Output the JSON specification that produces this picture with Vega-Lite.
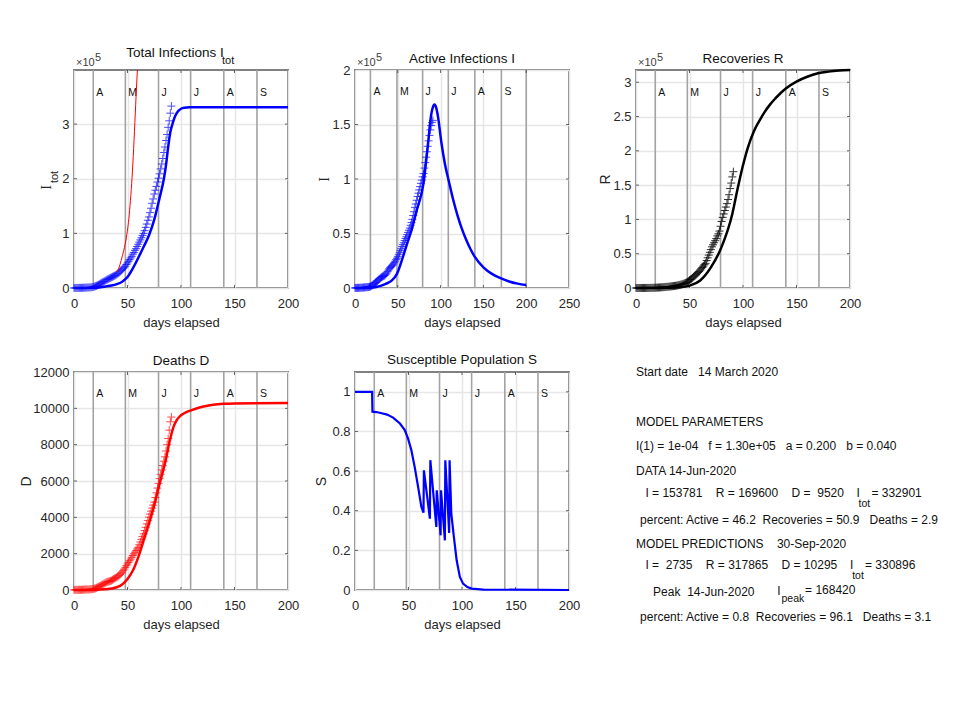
{
  "$schema": "https://vega.github.io/schema/vega-lite/v6.json",
  "background": "#ffffff",
  "padding": {"left": 18, "top": 44, "right": 10, "bottom": 60},
  "bounds": "flush",
  "columns": 3,
  "spacing": {"row": 84, "column": 67},
  "config": {
    "font": "Liberation Sans",
    "view": {"stroke": "#808080", "strokeWidth": 2},
    "axis": {"domain": false, "ticks": false, "tickSize": 0, "grid": true, "gridColor": "#e6e6e6", "gridWidth": 1.5, "labelFontSize": 13, "labelColor": "#262626", "titleFontSize": 14, "titleFontWeight": "normal", "titleColor": "#262626", "labelOverlap": false, "labelFlush": false, "labelBound": false},
    "axisX": {"labelPadding": 9, "titlePadding": 6, "titleFontSize": 13},
    "axisY": {"labelPadding": 5},
    "title": {"fontSize": 13.5, "fontWeight": "normal", "color": "#111111"}
  },
  "datasets": {
    "months": [{"day": 18, "value": 0}, {"day": 48, "value": 0}, {"day": 79, "value": 0}, {"day": 109, "value": 0}, {"day": 140, "value": 0}, {"day": 171, "value": 0}],
    "bottom_ticks": [{"day": 50, "value": 0}, {"day": 100, "value": 0}, {"day": 150, "value": 0}],
    "cases": [
      {"day":0,"Itot":80,"I":70,"R":5,"D":5},{"day":1,"Itot":100,"I":90,"R":5,"D":5},{"day":2,"Itot":120,"I":100,"R":10,"D":10},{"day":3,"Itot":150,"I":130,"R":10,"D":10},
      {"day":4,"Itot":200,"I":170,"R":20,"D":10},{"day":5,"Itot":250,"I":210,"R":30,"D":10},{"day":6,"Itot":300,"I":250,"R":40,"D":10},{"day":7,"Itot":350,"I":290,"R":50,"D":10},
      {"day":8,"Itot":420,"I":340,"R":60,"D":20},{"day":9,"Itot":500,"I":400,"R":80,"D":20},{"day":10,"Itot":600,"I":470,"R":100,"D":30},{"day":11,"Itot":700,"I":540,"R":130,"D":30},
      {"day":12,"Itot":800,"I":620,"R":150,"D":30},{"day":13,"Itot":900,"I":700,"R":170,"D":30},{"day":14,"Itot":1000,"I":780,"R":190,"D":30},{"day":15,"Itot":1150,"I":880,"R":230,"D":40},
      {"day":16,"Itot":1300,"I":1000,"R":260,"D":40},{"day":17,"Itot":1500,"I":1120,"R":330,"D":50},{"day":18,"Itot":2000,"I":1300,"R":400,"D":60},{"day":19,"Itot":2600,"I":1800,"R":500,"D":75},
      {"day":20,"Itot":3300,"I":2400,"R":600,"D":90},{"day":21,"Itot":4100,"I":3000,"R":700,"D":120},{"day":22,"Itot":5000,"I":3700,"R":800,"D":150},{"day":23,"Itot":6000,"I":4300,"R":900,"D":180},
      {"day":24,"Itot":7200,"I":5000,"R":1000,"D":210},{"day":25,"Itot":8500,"I":5600,"R":1100,"D":240},{"day":26,"Itot":9700,"I":6400,"R":1300,"D":280},{"day":27,"Itot":11000,"I":7100,"R":1400,"D":310},
      {"day":28,"Itot":12000,"I":7900,"R":1500,"D":350},{"day":29,"Itot":13000,"I":8600,"R":1700,"D":380},{"day":30,"Itot":14500,"I":9400,"R":1800,"D":420},{"day":31,"Itot":15500,"I":9900,"R":2000,"D":440},
      {"day":32,"Itot":16500,"I":10400,"R":2200,"D":460},{"day":33,"Itot":17500,"I":10800,"R":2400,"D":480},{"day":34,"Itot":18500,"I":11200,"R":2600,"D":500},{"day":35,"Itot":19500,"I":11700,"R":2800,"D":520},
      {"day":36,"Itot":20500,"I":12600,"R":3000,"D":560},{"day":37,"Itot":21500,"I":13700,"R":3200,"D":600},{"day":38,"Itot":22500,"I":15000,"R":3500,"D":640},{"day":39,"Itot":23500,"I":16400,"R":3800,"D":670},
      {"day":40,"Itot":25000,"I":17700,"R":4200,"D":700},{"day":41,"Itot":26500,"I":18600,"R":4600,"D":750},{"day":42,"Itot":28000,"I":19400,"R":5000,"D":800},{"day":43,"Itot":30000,"I":20200,"R":5500,"D":860},
      {"day":44,"Itot":32000,"I":21000,"R":6000,"D":920},{"day":45,"Itot":34000,"I":22000,"R":6600,"D":980},{"day":46,"Itot":36000,"I":23200,"R":7300,"D":1060},{"day":47,"Itot":38000,"I":24600,"R":8000,"D":1150},
      {"day":48,"Itot":40000,"I":26000,"R":8900,"D":1250},{"day":49,"Itot":43000,"I":27300,"R":10000,"D":1340},{"day":50,"Itot":46000,"I":28700,"R":11500,"D":1430},{"day":51,"Itot":49000,"I":30500,"R":12500,"D":1520},
      {"day":52,"Itot":52000,"I":32300,"R":13500,"D":1610},{"day":53,"Itot":55000,"I":34200,"R":15000,"D":1700},{"day":54,"Itot":58000,"I":36000,"R":16500,"D":1800},{"day":55,"Itot":62000,"I":38000,"R":18000,"D":1900},
      {"day":56,"Itot":65000,"I":39800,"R":19500,"D":1990},{"day":57,"Itot":69000,"I":41500,"R":21000,"D":2080},{"day":58,"Itot":72000,"I":43500,"R":22500,"D":2170},{"day":59,"Itot":76000,"I":45400,"R":24000,"D":2260},
      {"day":60,"Itot":80000,"I":47000,"R":26000,"D":2350},{"day":61,"Itot":84000,"I":49000,"R":28000,"D":2490},{"day":62,"Itot":88000,"I":51000,"R":30000,"D":2640},{"day":63,"Itot":92000,"I":53000,"R":32000,"D":2790},
      {"day":64,"Itot":96000,"I":55000,"R":34000,"D":2940},{"day":65,"Itot":100000,"I":57500,"R":36000,"D":3090},{"day":66,"Itot":105000,"I":60000,"R":40000,"D":3270},{"day":67,"Itot":111000,"I":63000,"R":44000,"D":3450},
      {"day":68,"Itot":117000,"I":66500,"R":48000,"D":3640},{"day":69,"Itot":124000,"I":70000,"R":52000,"D":3820},{"day":70,"Itot":130000,"I":74000,"R":56000,"D":4010},{"day":71,"Itot":138000,"I":77000,"R":60000,"D":4180},
      {"day":72,"Itot":146000,"I":80500,"R":63000,"D":4340},{"day":73,"Itot":155000,"I":84000,"R":66000,"D":4510},{"day":74,"Itot":163000,"I":87000,"R":69000,"D":4670},{"day":75,"Itot":172000,"I":90000,"R":72000,"D":4840},
      {"day":76,"Itot":179000,"I":93000,"R":76000,"D":5090},{"day":77,"Itot":186000,"I":96000,"R":79000,"D":5350},{"day":78,"Itot":194000,"I":99000,"R":83000,"D":5610},{"day":79,"Itot":201000,"I":102000,"R":90000,"D":5870},
      {"day":80,"Itot":209000,"I":105000,"R":97000,"D":6130},{"day":81,"Itot":218000,"I":110000,"R":103000,"D":6370},{"day":82,"Itot":227000,"I":115000,"R":108000,"D":6610},{"day":83,"Itot":237000,"I":120000,"R":113000,"D":6850},
      {"day":84,"Itot":248000,"I":125000,"R":118000,"D":7090},{"day":85,"Itot":258000,"I":130000,"R":123000,"D":7330},{"day":86,"Itot":270000,"I":135000,"R":129000,"D":7650},{"day":87,"Itot":281000,"I":140000,"R":136000,"D":8000},
      {"day":88,"Itot":294000,"I":145000,"R":145000,"D":8340},{"day":89,"Itot":306000,"I":149000,"R":153000,"D":8800},{"day":90,"Itot":320000,"I":152000,"R":162000,"D":9260},{"day":91,"Itot":332901,"I":153781,"R":169600,"D":9520}
    ],
    "model_itot": [{"day":0,"value":0},{"day":10,"value":100},{"day":17,"value":300},{"day":20,"value":600},{"day":25,"value":1500},{"day":30,"value":3000},{"day":35,"value":4500},{"day":40,"value":7000},{"day":45,"value":11500},{"day":50,"value":20000},{"day":55,"value":36000},{"day":60,"value":55000},{"day":65,"value":75000},{"day":70,"value":96000},{"day":75,"value":125000},{"day":80,"value":165000},{"day":84,"value":200000},{"day":86,"value":225000},{"day":88,"value":258000},{"day":90,"value":285000},{"day":92,"value":300000},{"day":94,"value":312000},{"day":96,"value":320000},{"day":98,"value":325000},{"day":100,"value":328000},{"day":103,"value":330000},{"day":108,"value":330700},{"day":120,"value":330896},{"day":200,"value":330896}],
    "exp_itot": [{"day":40,"value":29000},{"day":42,"value":37000},{"day":44,"value":50000},{"day":46.5,"value":69000},{"day":49,"value":93000},{"day":52,"value":142000},{"day":55,"value":227000},{"day":58,"value":350000},{"day":60,"value":430000}],
    "model_i": [{"day":0,"value":0},{"day":17,"value":300},{"day":25,"value":1000},{"day":30,"value":2000},{"day":36,"value":3800},{"day":42.5,"value":6500},{"day":49,"value":13000},{"day":56,"value":28500},{"day":61,"value":41000},{"day":66,"value":53000},{"day":72,"value":71000},{"day":80,"value":96000},{"day":85,"value":130000},{"day":89,"value":159000},{"day":91,"value":166000},{"day":93,"value":168420},{"day":95,"value":165000},{"day":97,"value":157000},{"day":101,"value":133000},{"day":105,"value":114000},{"day":109,"value":100000},{"day":115,"value":80000},{"day":120,"value":66000},{"day":125,"value":54000},{"day":130,"value":44000},{"day":135,"value":35500},{"day":140,"value":28500},{"day":150,"value":19000},{"day":160,"value":13000},{"day":170,"value":9000},{"day":180,"value":6000},{"day":190,"value":4000},{"day":200,"value":2735}],
    "model_r": [{"day":0,"value":0},{"day":30,"value":300},{"day":40,"value":1000},{"day":50,"value":3500},{"day":60,"value":11000},{"day":70,"value":30000},{"day":80,"value":60000},{"day":90,"value":108000},{"day":95,"value":145000},{"day":100,"value":179000},{"day":105,"value":207000},{"day":110,"value":228000},{"day":115,"value":243000},{"day":120,"value":256000},{"day":125,"value":267000},{"day":130,"value":276000},{"day":135,"value":284000},{"day":140,"value":291000},{"day":150,"value":301000},{"day":160,"value":308000},{"day":170,"value":313000},{"day":180,"value":315500},{"day":190,"value":317000},{"day":200,"value":317865}],
    "model_d": [{"day":0,"value":0},{"day":17,"value":5},{"day":30,"value":35},{"day":40,"value":150},{"day":45,"value":300},{"day":50,"value":600},{"day":55,"value":1070},{"day":60,"value":1800},{"day":65,"value":2720},{"day":70,"value":3640},{"day":75,"value":4660},{"day":80,"value":5850},{"day":85,"value":6960},{"day":90,"value":8340},{"day":93,"value":8980},{"day":96,"value":9350},{"day":100,"value":9620},{"day":105,"value":9790},{"day":110,"value":9900},{"day":120,"value":10090},{"day":130,"value":10200},{"day":140,"value":10250},{"day":150,"value":10270},{"day":200,"value":10295}],
    "model_s": [{"day":0,"value":1},{"day":16,"value":1},{"day":16.3,"value":0.9},{"day":20,"value":0.898},{"day":25,"value":0.892},{"day":30,"value":0.885},{"day":35.6,"value":0.87},{"day":42,"value":0.84},{"day":46.5,"value":0.807},{"day":49.6,"value":0.764},{"day":52.7,"value":0.705},{"day":55.8,"value":0.62},{"day":59,"value":0.52},{"day":62,"value":0.42},{"day":64,"value":0.39},{"day":64.4,"value":0.604},{"day":70,"value":0.36},{"day":70.4,"value":0.655},{"day":76,"value":0.318},{"day":76.4,"value":0.503},{"day":80,"value":0.276},{"day":80.4,"value":0.503},{"day":84,"value":0.25},{"day":84.4,"value":0.655},{"day":88,"value":0.288},{"day":88.4,"value":0.655},{"day":90,"value":0.385},{"day":92.4,"value":0.268},{"day":95,"value":0.15},{"day":98,"value":0.066},{"day":101,"value":0.032},{"day":105,"value":0.015},{"day":109,"value":0.007},{"day":120,"value":0.002},{"day":200,"value":0}]
  },
  "concat": [
    {
      "width": 214, "height": 218,
      "title": {"text": "Total Infections I", "dx": -6, "offset": -7},
      "encoding": {
        "x": {"field": "day", "type": "quantitative", "scale": {"domain": [0, 200], "nice": false}, "axis": {"values": [0, 50, 100, 150, 200], "title": "days elapsed"}},
        "y": {"field": "value", "type": "quantitative", "scale": {"domain": [0, 399000], "nice": false}, "axis": {"values": [0, 100000, 200000, 300000], "labelExpr": "datum.value / 100000", "title": "I", "titleFont": "Liberation Serif", "titleX": -21, "titleY": 117}}
      },
      "layer": [
        {"data": {"name": "months"}, "mark": {"type": "rule", "color": "#a3a3a3", "strokeWidth": 1.6}, "encoding": {"y2": {"datum": 399000}}},
        {"data": {"values": [{"day": 18, "value": 357000, "m": "A"}, {"day": 48, "value": 357000, "m": "M"}, {"day": 79, "value": 357000, "m": "J"}, {"day": 109, "value": 357000, "m": "J"}, {"day": 140, "value": 357000, "m": "A"}, {"day": 171, "value": 357000, "m": "S"}]}, "mark": {"type": "text", "align": "left", "dx": 3, "fontSize": 10.5, "color": "#111111"}, "encoding": {"text": {"field": "m"}}},
        {"data": {"name": "bottom_ticks"}, "mark": {"type": "tick", "orient": "vertical", "size": 6, "color": "#262626", "clip": true}},
        {"data": {"values": [{"day": 50, "value": 399000}, {"day": 100, "value": 399000}, {"day": 150, "value": 399000}]}, "mark": {"type": "tick", "orient": "vertical", "size": 6, "color": "#262626", "clip": true}},
        {"data": {"values": [{"day": 0, "value": 100000}, {"day": 0, "value": 200000}, {"day": 0, "value": 300000}, {"day": 200, "value": 100000}, {"day": 200, "value": 200000}, {"day": 200, "value": 300000}]}, "mark": {"type": "tick", "orient": "horizontal", "size": 6, "color": "#262626", "clip": true}},
        {"data": {"values": [{"day": 0, "value": 399000}]}, "mark": {"type": "text", "text": "×10", "align": "left", "dx": 2, "dy": -7, "fontSize": 11, "color": "#404040"}},
        {"data": {"values": [{"day": 0, "value": 399000}]}, "mark": {"type": "text", "text": "5", "align": "left", "dx": 21, "dy": -12, "fontSize": 11, "color": "#404040"}},
        {"data": {"values": [{"day": 100, "value": 399000}]}, "mark": {"type": "text", "text": "tot", "align": "left", "dx": 41, "dy": -9, "fontSize": 11, "color": "#111111"}},
        {"data": {"values": [{"day": 0, "value": 199500}]}, "mark": {"type": "text", "text": "tot", "angle": 270, "align": "center", "dx": 2, "dy": -19, "fontSize": 11, "color": "#262626"}},
        {"data": {"name": "cases"}, "mark": {"type": "point", "shape": "M-1,0L1,0M0,-1L0,1", "size": 64, "filled": false, "color": "#0000ff", "strokeWidth": 1, "opacity": 0.7}, "encoding": {"y": {"field": "Itot", "type": "quantitative"}}},
        {"data": {"name": "exp_itot"}, "mark": {"type": "line", "color": "#ff0000", "strokeWidth": 1, "interpolate": "monotone", "clip": true}},
        {"data": {"name": "model_itot"}, "mark": {"type": "line", "color": "#0000ff", "strokeWidth": 2.5, "interpolate": "monotone"}}
      ]
    },
    {
      "width": 214, "height": 218,
      "title": {"text": "Active Infections  I", "offset": -13},
      "encoding": {
        "x": {"field": "day", "type": "quantitative", "scale": {"domain": [0, 250], "nice": false}, "axis": {"values": [0, 50, 100, 150, 200, 250], "title": "days elapsed"}},
        "y": {"field": "value", "type": "quantitative", "scale": {"domain": [0, 200000], "nice": false}, "axis": {"values": [0, 50000, 100000, 150000, 200000], "labelExpr": "datum.value / 100000", "title": "I", "titleFont": "Liberation Serif", "titleX": -24}}
      },
      "layer": [
        {"data": {"values": [{"day": 18, "value": 0}, {"day": 49, "value": 0}, {"day": 79, "value": 0}, {"day": 109, "value": 0}, {"day": 140, "value": 0}, {"day": 171, "value": 0}, {"day": 200, "value": 0}]}, "mark": {"type": "rule", "color": "#a3a3a3", "strokeWidth": 1.6}, "encoding": {"y2": {"datum": 200000}}},
        {"data": {"values": [{"day": 18, "value": 179500, "m": "A"}, {"day": 49, "value": 179500, "m": "M"}, {"day": 79, "value": 179500, "m": "J"}, {"day": 109, "value": 179500, "m": "J"}, {"day": 140, "value": 179500, "m": "A"}, {"day": 171, "value": 179500, "m": "S"}]}, "mark": {"type": "text", "align": "left", "dx": 3, "fontSize": 10.5, "color": "#111111"}, "encoding": {"text": {"field": "m"}}},
        {"data": {"values": [{"day": 50, "value": 0}, {"day": 100, "value": 0}, {"day": 150, "value": 0}, {"day": 200, "value": 0}, {"day": 50, "value": 200000}, {"day": 100, "value": 200000}, {"day": 150, "value": 200000}, {"day": 200, "value": 200000}]}, "mark": {"type": "tick", "orient": "vertical", "size": 6, "color": "#262626", "clip": true}},
        {"data": {"values": [{"day": 0, "value": 50000}, {"day": 0, "value": 100000}, {"day": 0, "value": 150000}, {"day": 250, "value": 50000}, {"day": 250, "value": 100000}, {"day": 250, "value": 150000}]}, "mark": {"type": "tick", "orient": "horizontal", "size": 6, "color": "#262626", "clip": true}},
        {"data": {"values": [{"day": 0, "value": 200000}]}, "mark": {"type": "text", "text": "×10", "align": "left", "dx": 2, "dy": -7, "fontSize": 11, "color": "#404040"}},
        {"data": {"values": [{"day": 0, "value": 200000}]}, "mark": {"type": "text", "text": "5", "align": "left", "dx": 21, "dy": -12, "fontSize": 11, "color": "#404040"}},
        {"data": {"name": "cases"}, "mark": {"type": "point", "shape": "M-1,0L1,0M0,-1L0,1", "size": 64, "filled": false, "color": "#0000ff", "strokeWidth": 1, "opacity": 0.7}, "encoding": {"y": {"field": "I", "type": "quantitative"}}},
        {"data": {"name": "model_i"}, "mark": {"type": "line", "color": "#0000ff", "strokeWidth": 2.5, "interpolate": "monotone"}}
      ]
    },
    {
      "width": 214, "height": 218,
      "title": {"text": "Recoveries  R", "offset": -13},
      "encoding": {
        "x": {"field": "day", "type": "quantitative", "scale": {"domain": [0, 200], "nice": false}, "axis": {"values": [0, 50, 100, 150, 200], "title": "days elapsed"}},
        "y": {"field": "value", "type": "quantitative", "scale": {"domain": [0, 317865], "nice": false}, "axis": {"values": [0, 50000, 100000, 150000, 200000, 250000, 300000], "labelExpr": "datum.value / 100000", "title": "R", "titleX": -24}}
      },
      "layer": [
        {"data": {"name": "months"}, "mark": {"type": "rule", "color": "#a3a3a3", "strokeWidth": 1.6}, "encoding": {"y2": {"datum": 317865}}},
        {"data": {"values": [{"day": 18, "value": 284400, "m": "A"}, {"day": 48, "value": 284400, "m": "M"}, {"day": 79, "value": 284400, "m": "J"}, {"day": 109, "value": 284400, "m": "J"}, {"day": 140, "value": 284400, "m": "A"}, {"day": 171, "value": 284400, "m": "S"}]}, "mark": {"type": "text", "align": "left", "dx": 3, "fontSize": 10.5, "color": "#111111"}, "encoding": {"text": {"field": "m"}}},
        {"data": {"name": "bottom_ticks"}, "mark": {"type": "tick", "orient": "vertical", "size": 6, "color": "#262626", "clip": true}},
        {"data": {"values": [{"day": 50, "value": 317865}, {"day": 100, "value": 317865}, {"day": 150, "value": 317865}]}, "mark": {"type": "tick", "orient": "vertical", "size": 6, "color": "#262626", "clip": true}},
        {"data": {"values": [{"day": 0, "value": 50000}, {"day": 0, "value": 100000}, {"day": 0, "value": 150000}, {"day": 0, "value": 200000}, {"day": 0, "value": 250000}, {"day": 0, "value": 300000}, {"day": 200, "value": 50000}, {"day": 200, "value": 100000}, {"day": 200, "value": 150000}, {"day": 200, "value": 200000}, {"day": 200, "value": 250000}, {"day": 200, "value": 300000}]}, "mark": {"type": "tick", "orient": "horizontal", "size": 6, "color": "#262626", "clip": true}},
        {"data": {"values": [{"day": 0, "value": 317865}]}, "mark": {"type": "text", "text": "×10", "align": "left", "dx": 2, "dy": -7, "fontSize": 11, "color": "#404040"}},
        {"data": {"values": [{"day": 0, "value": 317865}]}, "mark": {"type": "text", "text": "5", "align": "left", "dx": 21, "dy": -12, "fontSize": 11, "color": "#404040"}},
        {"data": {"name": "cases"}, "mark": {"type": "point", "shape": "M-1,0L1,0M0,-1L0,1", "size": 64, "filled": false, "color": "#000000", "strokeWidth": 1, "opacity": 0.8}, "encoding": {"y": {"field": "R", "type": "quantitative"}}},
        {"data": {"name": "model_r"}, "mark": {"type": "line", "color": "#000000", "strokeWidth": 2.5, "interpolate": "monotone"}}
      ]
    },
    {
      "width": 214, "height": 218,
      "title": {"text": "Deaths  D", "offset": -1},
      "encoding": {
        "x": {"field": "day", "type": "quantitative", "scale": {"domain": [0, 200], "nice": false}, "axis": {"values": [0, 50, 100, 150, 200], "title": "days elapsed"}},
        "y": {"field": "value", "type": "quantitative", "scale": {"domain": [0, 12000], "nice": false}, "axis": {"values": [0, 2000, 4000, 6000, 8000, 10000, 12000], "format": "d", "title": "D", "titleX": -41}}
      },
      "layer": [
        {"data": {"name": "months"}, "mark": {"type": "rule", "color": "#a3a3a3", "strokeWidth": 1.6}, "encoding": {"y2": {"datum": 12000}}},
        {"data": {"values": [{"day": 18, "value": 10767, "m": "A"}, {"day": 48, "value": 10767, "m": "M"}, {"day": 79, "value": 10767, "m": "J"}, {"day": 109, "value": 10767, "m": "J"}, {"day": 140, "value": 10767, "m": "A"}, {"day": 171, "value": 10767, "m": "S"}]}, "mark": {"type": "text", "align": "left", "dx": 3, "fontSize": 10.5, "color": "#111111"}, "encoding": {"text": {"field": "m"}}},
        {"data": {"name": "bottom_ticks"}, "mark": {"type": "tick", "orient": "vertical", "size": 6, "color": "#262626", "clip": true}},
        {"data": {"values": [{"day": 50, "value": 12000}, {"day": 100, "value": 12000}, {"day": 150, "value": 12000}]}, "mark": {"type": "tick", "orient": "vertical", "size": 6, "color": "#262626", "clip": true}},
        {"data": {"values": [{"day": 0, "value": 2000}, {"day": 0, "value": 4000}, {"day": 0, "value": 6000}, {"day": 0, "value": 8000}, {"day": 0, "value": 10000}, {"day": 200, "value": 2000}, {"day": 200, "value": 4000}, {"day": 200, "value": 6000}, {"day": 200, "value": 8000}, {"day": 200, "value": 10000}]}, "mark": {"type": "tick", "orient": "horizontal", "size": 6, "color": "#262626", "clip": true}},
        {"data": {"name": "cases"}, "mark": {"type": "point", "shape": "M-1,0L1,0M0,-1L0,1", "size": 64, "filled": false, "color": "#ff0000", "strokeWidth": 1, "opacity": 0.7}, "encoding": {"y": {"field": "D", "type": "quantitative"}}},
        {"data": {"name": "model_d"}, "mark": {"type": "line", "color": "#ff0000", "strokeWidth": 2.5, "interpolate": "monotone"}}
      ]
    },
    {
      "width": 214, "height": 218,
      "title": {"text": "Susceptible Population S", "offset": 5},
      "encoding": {
        "x": {"field": "day", "type": "quantitative", "scale": {"domain": [0, 200], "nice": false}, "axis": {"values": [0, 50, 100, 150, 200], "title": "days elapsed"}},
        "y": {"field": "value", "type": "quantitative", "scale": {"domain": [0, 1.1], "nice": false}, "axis": {"values": [0, 0.2, 0.4, 0.6, 0.8, 1], "format": "~g", "title": "S", "titleX": -27}}
      },
      "layer": [
        {"data": {"name": "months"}, "mark": {"type": "rule", "color": "#a3a3a3", "strokeWidth": 1.6}, "encoding": {"y2": {"datum": 1.1}}},
        {"data": {"values": [{"day": 18, "value": 0.987, "m": "A"}, {"day": 48, "value": 0.987, "m": "M"}, {"day": 79, "value": 0.987, "m": "J"}, {"day": 109, "value": 0.987, "m": "J"}, {"day": 140, "value": 0.987, "m": "A"}, {"day": 171, "value": 0.987, "m": "S"}]}, "mark": {"type": "text", "align": "left", "dx": 3, "fontSize": 10.5, "color": "#111111"}, "encoding": {"text": {"field": "m"}}},
        {"data": {"name": "bottom_ticks"}, "mark": {"type": "tick", "orient": "vertical", "size": 6, "color": "#262626", "clip": true}},
        {"data": {"values": [{"day": 50, "value": 1.1}, {"day": 100, "value": 1.1}, {"day": 150, "value": 1.1}]}, "mark": {"type": "tick", "orient": "vertical", "size": 6, "color": "#262626", "clip": true}},
        {"data": {"values": [{"day": 0, "value": 0.2}, {"day": 0, "value": 0.4}, {"day": 0, "value": 0.6}, {"day": 0, "value": 0.8}, {"day": 0, "value": 1}, {"day": 200, "value": 0.2}, {"day": 200, "value": 0.4}, {"day": 200, "value": 0.6}, {"day": 200, "value": 0.8}, {"day": 200, "value": 1}]}, "mark": {"type": "tick", "orient": "horizontal", "size": 6, "color": "#262626", "clip": true}},
        {"data": {"name": "model_s"}, "mark": {"type": "line", "color": "#0000ff", "strokeWidth": 2.2}}
      ]
    },
    {
      "width": 214, "height": 218,
      "view": {"stroke": null},
      "data": {"values": [
        {"col": 0, "line": 0, "size": 12, "t": "Start date \u00a0 14 March 2020"},
        {"col": 0, "line": 2.04, "size": 12, "t": "MODEL PARAMETERS"},
        {"col": 0, "line": 3.03, "size": 12, "t": "I(1) = 1e-04 \u00a0 f = 1.30e+05 \u00a0 a = 0.200 \u00a0 b = 0.040"},
        {"col": 0, "line": 4.04, "size": 12, "t": "DATA 14-Jun-2020"},
        {"col": 4.4, "line": 4.91, "size": 12, "t": "I = 153781 \u00a0 \u00a0R = 169600 \u00a0 \u00a0D = \u00a09520"},
        {"col": 103, "line": 4.91, "size": 12, "t": "I"},
        {"col": 104, "line": 5.36, "size": 10.5, "t": "tot"},
        {"col": 110, "line": 4.91, "size": 12, "t": "= 332901"},
        {"col": 1.9, "line": 6.01, "size": 12, "t": "percent: Active = 46.2 \u00a0Recoveries = 50.9 \u00a0 Deaths = 2.9"},
        {"col": 0, "line": 6.99, "size": 12, "t": "MODEL PREDICTIONS \u00a0 \u00a030-Sep-2020"},
        {"col": 4.4, "line": 7.85, "size": 12, "t": "I = \u00a02735 \u00a0 \u00a0R = 317865 \u00a0 \u00a0D = 10295"},
        {"col": 100, "line": 7.85, "size": 12, "t": "I"},
        {"col": 101, "line": 8.3, "size": 10.5, "t": "tot"},
        {"col": 107, "line": 7.85, "size": 12, "t": "= 330896"},
        {"col": 8, "line": 8.98, "size": 12, "t": "Peak \u00a014-Jun-2020"},
        {"col": 66, "line": 8.91, "size": 12, "t": "I"},
        {"col": 68, "line": 9.24, "size": 10.5, "t": "peak"},
        {"col": 79, "line": 8.87, "size": 12, "t": "= 168420"},
        {"col": 1.9, "line": 10, "size": 12, "t": "percent: Active = 0.8 \u00a0Recoveries = 96.1 \u00a0 Deaths = 3.1"}
      ]},
      "mark": {"type": "text", "align": "left", "baseline": "middle", "color": "#111111"},
      "encoding": {
        "x": {"field": "col", "type": "quantitative", "scale": {"domain": [0, 100], "nice": false}, "axis": null},
        "y": {"field": "line", "type": "quantitative", "scale": {"domain": [0, 8.88], "reverse": true, "nice": false}, "axis": null},
        "size": {"field": "size", "type": "quantitative", "scale": null, "legend": null},
        "text": {"field": "t"}
      }
    }
  ]
}
